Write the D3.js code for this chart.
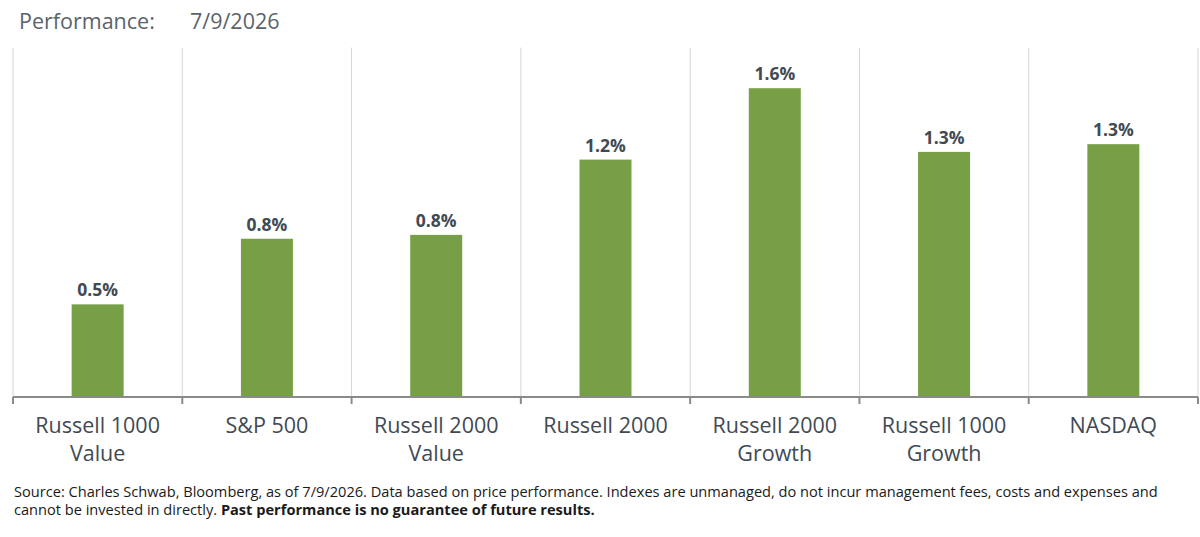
<!DOCTYPE html>
<html>
<head>
<meta charset="utf-8">
<script src="https://cdn.jsdelivr.net/npm/d3@7"></script>
<style>
  body { margin: 0; background: #fff; }
  svg { display: block; font-family: "Open Sans", "Noto Sans", sans-serif; }
</style>
</head>
<body>
<svg id="chart" width="1200" height="537"></svg>
<script>
// categories, two lines per label
const categories = [
  ['Russell 1000', 'Value'],
  ['S&P 500'],
  ['Russell 2000', 'Value'],
  ['Russell 2000'],
  ['Russell 2000', 'Growth'],
  ['Russell 1000', 'Growth'],
  ['NASDAQ']
];
// one-day performance, percent
const perf = [0.48, 0.82, 0.84, 1.23, 1.60, 1.27, 1.31];

const svg = d3.select('#chart');

const x = d3.scaleBand()
  .domain(d3.range(categories.length))
  .range([13, 1198])
  .paddingInner(0).paddingOuter(0);

const y = d3.scaleLinear().domain([0, 1.8]).range([397, 49.6]);

/// title ///
svg.append('text').attr('x', 19).attr('y', 29)
  .style('font-size', '21.5px').style('fill', '#5b636b')
  .text('Performance:');
svg.append('text').attr('x', 190).attr('y', 29)
  .style('font-size', '21.5px').style('fill', '#5b636b')
  .text('7/9/2026');

/// vertical separators ///
let edges = d3.range(categories.length + 1).map(i => i < categories.length ? x(i) : x.range()[1]);
svg.append('g').selectAll('line').data(edges).enter().append('line')
  .attr('x1', d => d).attr('x2', d => d)
  .attr('y1', y(1.8) - 2).attr('y2', y(0))
  .style('stroke', '#d4d4d4').style('stroke-width', 1);

/// bars ///
let barW = 52;
svg.append('g').selectAll('rect').data(perf).enter().append('rect')
  .attr('x', (d, i) => x(i) + x.bandwidth() / 2 - barW / 2)
  .attr('width', barW)
  .attr('y', d => y(d))
  .attr('height', d => y(0) - y(d))
  .style('fill', '#77a046');

/// value labels ///
svg.append('g').selectAll('text').data(perf).enter().append('text')
  .attr('x', (d, i) => x(i) + x.bandwidth() / 2)
  .attr('y', d => y(d) - 8)
  .attr('text-anchor', 'middle')
  .style('font-size', '17.5px').style('font-weight', 'bold').style('fill', '#414a53')
  .text(d => d.toFixed(1) + '%');

/// axis ///
svg.append('line').attr('x1', 13).attr('x2', 1198).attr('y1', y(0)).attr('y2', y(0))
  .style('stroke', '#8a8a8a').style('stroke-width', 2);
svg.append('g').selectAll('line').data(edges).enter().append('line')
  .attr('x1', d => d).attr('x2', d => d)
  .attr('y1', y(0)).attr('y2', y(0) + 7)
  .style('stroke', '#8a8a8a').style('stroke-width', 2);

let catLabels = svg.append('g').selectAll('text').data(categories).enter().append('text')
  .attr('x', (d, i) => x(i) + x.bandwidth() / 2)
  .attr('y', 433)
  .attr('text-anchor', 'middle')
  .style('font-size', '21.5px').style('fill', '#414a53');
catLabels.selectAll('tspan').data(d => d).enter().append('tspan')
  .attr('x', function() { return d3.select(this.parentNode).attr('x'); })
  .attr('dy', (d, i) => i === 0 ? 0 : 28)
  .text(d => d);

/// footnote ///
let foot = svg.append('text').attr('x', 14).attr('y', 497)
  .style('font-size', '14.6px').style('fill', '#1a1a1a');
foot.append('tspan').attr('x', 14)
  .text('Source: Charles Schwab, Bloomberg, as of 7/9/2026. Data based on price performance. Indexes are unmanaged, do not incur management fees, costs and expenses and');
foot.append('tspan').attr('x', 14).attr('dy', 18)
  .text('cannot be invested in directly. ');
foot.append('tspan').style('font-weight', 'bold')
  .text('Past performance is no guarantee of future results.');
</script>
</body>
</html>
